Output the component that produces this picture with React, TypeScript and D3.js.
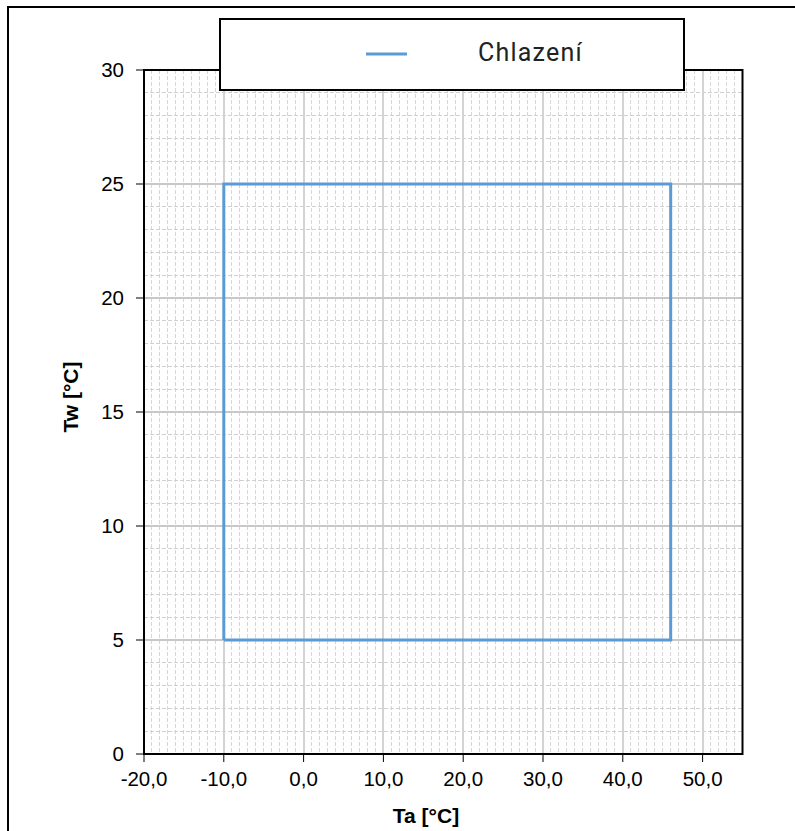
import React from "react";
import * as d3 from "d3";

const seriesName = "Chlazení";
const taValues = [-10, 46, 46, -10, -10];
const twValues = [5, 5, 25, 25, 5];
const xTicks = [-20, -10, 0, 10, 20, 30, 40, 50];
const yTicks = [0, 5, 10, 15, 20, 25, 30];

const W = 795;
const H = 831;
const m = { left: 144, right: 742.5, top: 70, bottom: 754 };
const blue = "#5B9BD5";
const arial = "'Liberation Sans', Arial, Helvetica, sans-serif";

export default function App() {
  const x = d3.scaleLinear().domain([-20, 55]).range([m.left, m.right]);
  const y = d3.scaleLinear().domain([0, 30]).range([m.bottom, m.top]);

  const minorX = d3.range(-20, 56, 1).filter((v) => v % 10 !== 0);
  const majorX = d3.range(-20, 56, 10);
  const minorY = d3.range(0, 31, 1).filter((v) => v % 5 !== 0);
  const majorY = d3.range(0, 31, 5);

  const line = d3
    .line<number>()
    .x((d) => x(d))
    .y((_, i) => y(twValues[i]));

  const fmt = (v: number) => v.toFixed(1).replace(".", ",");

  return (
    <svg
      width={W}
      height={H}
      style={{ position: "absolute", left: 0, top: 0, background: "#fff" }}
    >
      <rect x={8} y={7} width={900} height={900} fill="#fff" stroke="#000" strokeWidth={2} />

      {/* grid */}
      <g shapeRendering="crispEdges">
        {minorX.map((v) => (
          <line key={"mx" + v} x1={x(v)} x2={x(v)} y1={m.top} y2={m.bottom}
            stroke="#d6d6d6" strokeWidth={1} strokeDasharray="4,2" />
        ))}
        {minorY.map((v) => (
          <line key={"my" + v} x1={m.left} x2={m.right} y1={y(v)} y2={y(v)}
            stroke="#d0d0d0" strokeWidth={1} strokeDasharray="4,2" />
        ))}
        {majorX.map((v) => (
          <line key={"Mx" + v} x1={x(v)} x2={x(v)} y1={m.top} y2={m.bottom}
            stroke="#d3d3d3" strokeWidth={2} />
        ))}
        {majorY.map((v) => (
          <line key={"My" + v} x1={m.left} x2={m.right} y1={y(v)} y2={y(v)}
            stroke="#c8c8c8" strokeWidth={2} />
        ))}
      </g>

      {/* plot frame */}
      <rect x={m.left} y={m.top} width={m.right - m.left} height={m.bottom - m.top}
        fill="none" stroke="#000" strokeWidth={2} />

      {/* ticks */}
      <g style={{ fontFamily: arial }} fontSize={20.5} fill="#000">
        {xTicks.map((v) => (
          <g key={"xt" + v}>
            <line x1={x(v)} x2={x(v)} y1={m.bottom} y2={m.bottom + 8} stroke="#000" strokeWidth={1} />
            <text x={x(v)} y={786} textAnchor="middle">{fmt(v)}</text>
          </g>
        ))}
        {yTicks.map((v) => (
          <g key={"yt" + v}>
            <line x1={m.left - 8} x2={m.left} y1={y(v)} y2={y(v)} stroke="#000" strokeWidth={1} />
            <text x={124} y={y(v)} dy="0.36em" textAnchor="end">{v}</text>
          </g>
        ))}
      </g>

      {/* axis titles */}
      <text x={426} y={823} textAnchor="middle" style={{ fontFamily: arial }}
        fontSize={21} fontWeight="bold">Ta [°C]</text>
      <text transform="translate(78,397) rotate(-90)" textAnchor="middle"
        style={{ fontFamily: arial }} fontSize={21} fontWeight="bold">Tw [°C]</text>

      {/* series */}
      <path d={line(taValues) || ""} fill="none" stroke={blue} strokeWidth={3} />

      {/* legend */}
      <rect x={220} y={19} width={464} height={71} fill="#fff" stroke="#000" strokeWidth={2} />
      <line x1={366} x2={407} y1={54} y2={54} stroke={blue} strokeWidth={3} />
      <text x={478} y={61} style={{ fontFamily: "Roboto, sans-serif" }} fontSize={25}
        letterSpacing={1.2} fill="#222">
        {seriesName}
      </text>
    </svg>
  );
}
